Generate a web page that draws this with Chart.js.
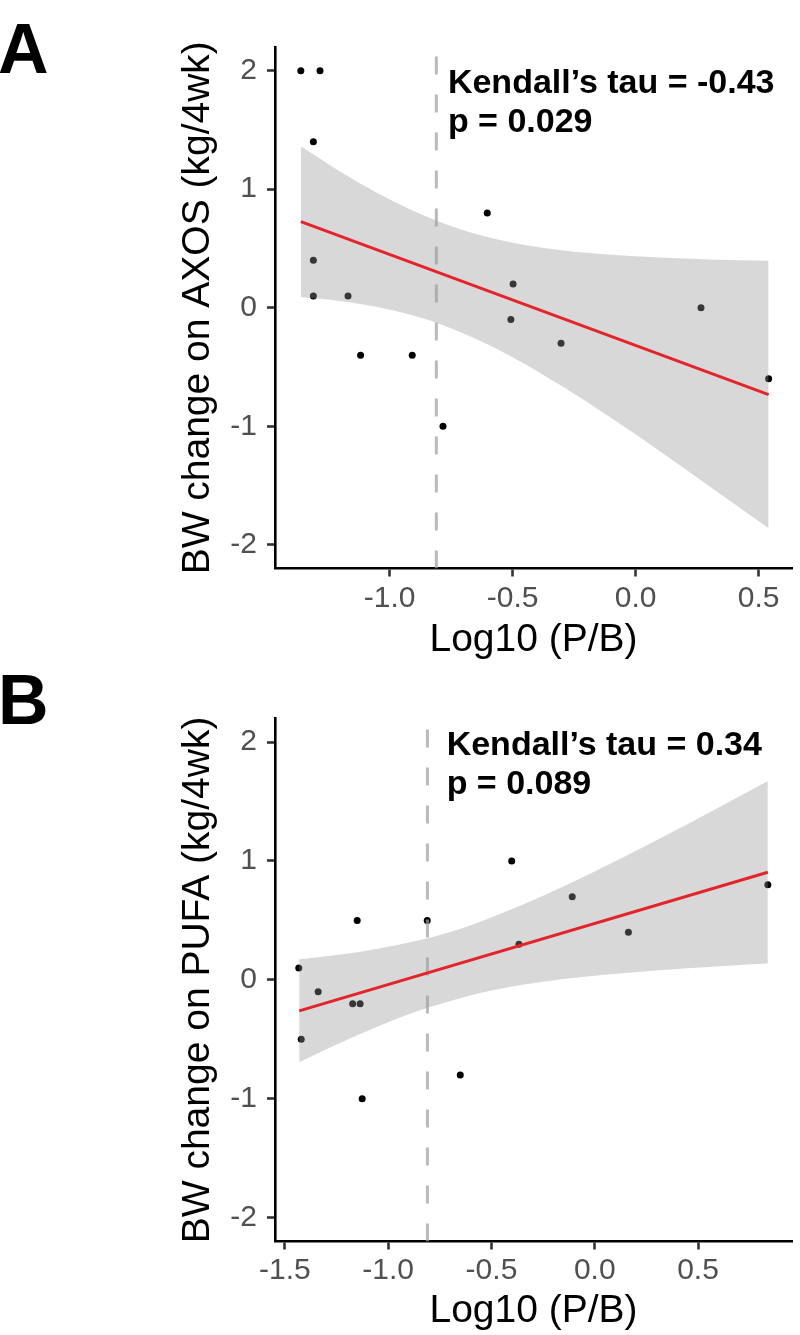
<!DOCTYPE html>
<html>
<head>
<meta charset="utf-8">
<script src="https://cdn.jsdelivr.net/npm/chart.js@4.4.1/dist/chart.umd.min.js"></script>
<style>
html,body{margin:0;padding:0;background:#fff;}
#wrap{position:relative;width:800px;height:1335px;overflow:hidden;background:#fff;}
canvas{position:absolute;left:0;display:block;}
</style>
</head>
<body>
<div id="wrap">
<canvas id="cA" width="800" height="668" style="top:0px"></canvas>
<canvas id="cB" width="800" height="667" style="top:668px"></canvas>
</div>
<script>
// ---------- data ----------
const panelLetters = ['A', 'B'];
const xTitle = 'Log10 (P/B)';
const yTitleA = 'BW change on AXOS (kg/4wk)';
const yTitleB = 'BW change on PUFA (kg/4wk)';

// Panel A: AXOS
const axosX = [-1.361, -1.283, -1.31, -0.603, -1.31, -0.498, -1.31, -1.169, 0.266, -0.507, -0.303, -1.118, -0.908, -0.783, 0.541];
const axosY = [2.0, 2.0, 1.4, 0.8, 0.4, 0.2, 0.1, 0.1, 0.0, -0.1, -0.3, -0.4, -0.4, -1.0, -0.6];
const axosFitX = [-1.361, 0.541];
const axosFitY = [0.727, -0.733];
const axosBandX = [-1.361, -1.2, -1.05, -0.9, -0.777, -0.65, -0.5, -0.3, -0.1, 0.1, 0.3, 0.541];
const axosBandUpper = [1.362, 1.148, 0.969, 0.814, 0.708, 0.623, 0.549, 0.485, 0.447, 0.423, 0.407, 0.396];
const axosBandLower = [0.09, 0.058, 0.007, -0.068, -0.151, -0.261, -0.417, -0.661, -0.929, -1.212, -1.505, -1.86];
const axosStats = ['Kendall\u2019s tau = -0.43', 'p = 0.029'];
const axosXTicks = [-1.0, -0.5, 0.0, 0.5];
const axosXRange = [-1.466, 0.636];

// Panel B: PUFA
const pufaX = [-1.433, -1.339, -1.172, -1.136, -1.150, -0.811, -0.402, -0.367, -0.109, 0.163, 0.838, -1.421, -0.651, -1.126];
const pufaY = [0.1, -0.1, -0.2, -0.2, 0.5, 0.5, 1.0, 0.3, 0.7, 0.4, 0.8, -0.5, -0.8, -1.0];
const pufaFitX = [-1.431, 0.838];
const pufaFitY = [-0.26, 0.905];
const pufaBandX = [-1.431, -1.25, -1.05, -0.85, -0.72, -0.55, -0.35, -0.15, 0.05, 0.25, 0.45, 0.65, 0.838];
const pufaBandUpper = [0.173, 0.209, 0.262, 0.334, 0.393, 0.492, 0.631, 0.787, 0.956, 1.131, 1.312, 1.497, 1.672];
const pufaBandLower = [-0.693, -0.543, -0.391, -0.258, -0.187, -0.108, -0.041, 0.007, 0.044, 0.073, 0.098, 0.119, 0.138];
const pufaStats = ['Kendall\u2019s tau = 0.34', 'p = 0.089'];
const pufaXTicks = [-1.5, -1.0, -0.5, 0.0, 0.5];
const pufaXRange = [-1.548, 0.955];

const cutoffX = -0.81;
const yTicks = [-2, -1, 0, 1, 2];
const yRange = [-2.2, 2.2];

// ---------- rendering ----------
const FONT = "'Liberation Sans', Arial, Helvetica, sans-serif";
Chart.defaults.font.family = FONT;

const annotPlugin = {
  id: 'annot',
  afterDatasetsDraw(chart, args, opts) {
    const ctx = chart.ctx;
    const xs = chart.scales.x, ys = chart.scales.y;
    ctx.save();
    ctx.fillStyle = '#000';
    ctx.textAlign = 'left';
    ctx.textBaseline = 'alphabetic';
    ctx.font = 'bold 34px ' + FONT;
    const px = xs.getPixelForValue(opts.pos[0]);
    const py = ys.getPixelForValue(opts.pos[1]);
    opts.lines.forEach((t, i) => ctx.fillText(t, px, py + i * opts.lineGap));
    ctx.font = 'bold 70px ' + FONT;
    ctx.fillText(opts.letter, -2, opts.letterY);
    ctx.restore();
  }
};

function pts(xa, ya) { return xa.map((v, i) => ({x: v, y: ya[i]})); }

function build(id, p) {
  return new Chart(document.getElementById(id), {
    type: 'scatter',
    data: {
      datasets: [
        { type: 'line', data: pts(p.bandX, p.bandUp), fill: '+1',
          backgroundColor: 'rgba(150,150,150,0.37)', borderColor: 'rgba(0,0,0,0)', borderWidth: 0,
          pointRadius: 0, cubicInterpolationMode: 'monotone', order: 3 },
        { type: 'line', data: pts(p.bandX, p.bandLo), fill: false,
          borderColor: 'rgba(0,0,0,0)', borderWidth: 0,
          pointRadius: 0, cubicInterpolationMode: 'monotone', order: 3 },
        { type: 'scatter', data: pts(p.x, p.y), pointRadius: 3.5,
          pointBackgroundColor: '#000', pointBorderColor: 'rgba(0,0,0,0)', pointBorderWidth: 0, order: 4 },
        { type: 'line', data: [{x: cutoffX, y: yRange[0]}, {x: cutoffX, y: yRange[1]}],
          borderColor: 'rgba(160,160,160,0.72)', borderWidth: 3, borderDash: [18, 20],
          pointRadius: 0, order: 2 },
        { type: 'line', data: pts(p.fitX, p.fitY), borderColor: '#e3242b', borderWidth: 3,
          pointRadius: 0, order: 1 }
      ]
    },
    options: {
      responsive: false,
      animation: false,
      events: [],
      layout: { padding: { left: 175, right: 8, top: p.top, bottom: 0 } },
      plugins: {
        legend: { display: false },
        tooltip: { enabled: false },
        annot: { pos: p.labelPos, lines: p.stats, lineGap: 39, letter: p.letter, letterY: p.letterY }
      },
      scales: {
        x: {
          type: 'linear', min: p.xRange[0], max: p.xRange[1],
          afterBuildTicks: s => { s.ticks = p.xTicks.map(v => ({value: v})); },
          afterFit: s => { s.height = p.xh; },
          ticks: { callback: v => Number(v).toFixed(1), font: {size: 30}, color: '#505050',
                   padding: p.xtpad, maxRotation: 0, autoSkip: false },
          grid: { drawOnChartArea: false, drawTicks: true, tickLength: 8, tickWidth: 2.6, tickColor: '#333' },
          border: { display: true, color: '#000', width: 2.6 },
          title: { display: true, text: xTitle, font: {size: 39}, color: '#000',
                   padding: {top: 0, bottom: p.titlePad} }
        },
        y: {
          type: 'linear', min: yRange[0], max: yRange[1],
          afterBuildTicks: s => { s.ticks = yTicks.map(v => ({value: v})); },
          afterFit: s => { s.width = 100; },
          ticks: { callback: v => String(v), font: {size: 30}, color: '#505050', padding: 10 },
          grid: { drawOnChartArea: false, drawTicks: true, tickLength: 8, tickWidth: 2.6, tickColor: '#333' },
          border: { display: true, color: '#000', width: 2.6 },
          title: { display: true, text: p.yTitle, font: {size: 39}, color: '#000',
                   padding: {top: 0, bottom: 0} }
        }
      }
    },
    plugins: [annotPlugin]
  });
}

build('cA', {
  x: axosX, y: axosY, fitX: axosFitX, fitY: axosFitY,
  bandX: axosBandX, bandUp: axosBandUpper, bandLo: axosBandLower,
  stats: axosStats, xTicks: axosXTicks, xRange: axosXRange, yTitle: yTitleA,
  labelPos: [-0.763, 1.81], letter: panelLetters[0], letterY: 73,
  top: 47, xh: 99.5, xtpad: 4, titlePad: 4
});
build('cB', {
  x: pufaX, y: pufaY, fitX: pufaFitX, fitY: pufaFitY,
  bandX: pufaBandX, bandUp: pufaBandUpper, bandLo: pufaBandLower,
  stats: pufaStats, xTicks: pufaXTicks, xRange: pufaXRange, yTitle: yTitleB,
  labelPos: [-0.717, 1.89], letter: panelLetters[1], letterY: 56,
  top: 50.3, xh: 93.5, xtpad: 3, titlePad: 0
});
</script>
</body>
</html>
